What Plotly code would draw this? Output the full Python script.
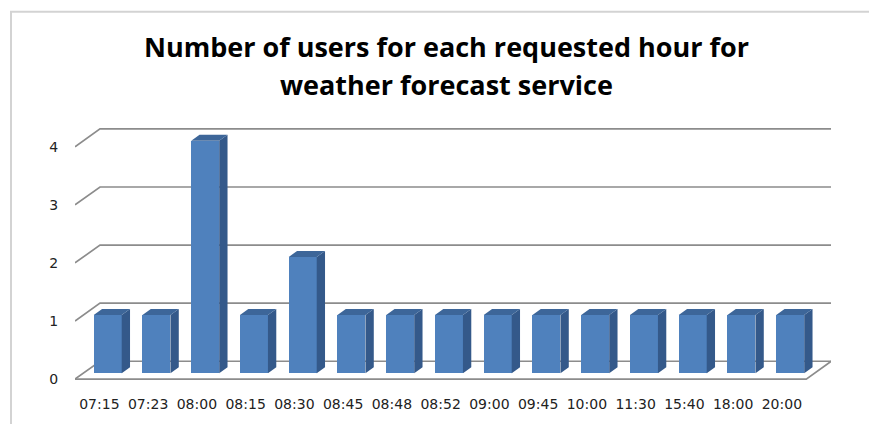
import plotly.graph_objects as go

# ---- data ----
hours = ["07:15", "07:23", "08:00", "08:15", "08:30", "08:45", "08:48", "08:52",
         "09:00", "09:45", "10:00", "11:30", "15:40", "18:00", "20:00"]
users = [1, 1, 4, 1, 2, 1, 1, 1, 1, 1, 1, 1, 1, 1, 1]
y_ticks = [0, 1, 2, 3, 4]
title_lines = ["Number of users for each requested hour for", "weather forecast service"]

# ---- layout geometry (pixels) ----
W_PX, H_PX = 869, 424
L, R, T, B = 75, 38, 120, 36
PX_X = 48.75          # px per category
PX_Y = 58.75          # px per unit
plot_w = W_PX - L - R
plot_h = H_PX - T - B
DX = 25 / PX_X        # depth offset (data units)
DY = 18 / PX_Y
BW = 0.574            # bar width
x0 = -0.5
x1 = len(hours) - 0.5
ymin = -6 / PX_Y
ymax = ymin + plot_h / PX_Y
xmax = x0 + plot_w / PX_X

def px2paper_x(px):
    return (px - L) / plot_w

def px2paper_y(py):
    return (H_PX - B - py) / plot_h

fig = go.Figure()

# gridlines (as shapes below traces): back wall + left stubs + floor edges
grid_style = dict(color="#8c8c8c", width=1.7)
shapes = []
for v in y_ticks:
    path = "M %f,%f L %f,%f L %f,%f" % (x0, v, x0 + DX, v + DY, x1 + DX, v + DY)
    shapes.append(dict(type="path", xref="x", yref="y", path=path,
                       line=grid_style, layer="below"))
path = "M %f,%f L %f,%f L %f,%f" % (x0, 0, x1, 0, x1 + DX, DY)
shapes.append(dict(type="path", xref="x", yref="y", path=path,
                   line=grid_style, layer="below"))
# chart border
shapes.append(dict(type="rect", xref="paper", yref="paper",
                   x0=px2paper_x(11), x1=px2paper_x(880),
                   y0=px2paper_y(435), y1=px2paper_y(10.5),
                   line=dict(color="#d3d3d3", width=2), layer="below"))

# bar geometry
d0x, d0y = DX / 3, DY / 3
d1x, d1y = 2 * DX / 3, 2 * DY / 3
sx, sy, tx, ty = [], [], [], []
for i, v in enumerate(users):
    xl = i - BW / 2 + d0x
    xr = i + BW / 2 + d0x
    # side face
    sx += [xr, xr + (d1x - d0x), xr + (d1x - d0x), xr, xr, None]
    sy += [d0y, d1y, v + d1y, v + d0y, d0y, None]
    # top face
    tx += [xl, xr, xr + (d1x - d0x), xl + (d1x - d0x), xl, None]
    ty += [v + d0y, v + d0y, v + d1y, v + d1y, v + d0y, None]

fig.add_trace(go.Bar(x=[i + d0x for i in range(len(hours))], y=users,
                     base=d0y, width=BW,
                     marker=dict(color="#4f81bd", line=dict(width=0)),
                     showlegend=False, hovertext=hours))
fig.add_trace(go.Scatter(x=sx, y=sy, mode="lines", fill="toself",
                         fillcolor="#34598a", line=dict(width=0, color="#34598a"),
                         hoverinfo="skip", showlegend=False))
fig.add_trace(go.Scatter(x=tx, y=ty, mode="lines", fill="toself",
                         fillcolor="#3d6699", line=dict(width=0, color="#3d6699"),
                         hoverinfo="skip", showlegend=False))

fig.update_layout(
    width=W_PX, height=H_PX,
    margin=dict(l=L, r=R, t=T, b=B, pad=0),
    paper_bgcolor="white", plot_bgcolor="white",
    showlegend=False,
    bargap=0,
    xaxis=dict(range=[x0, xmax], tickmode="array",
               tickvals=list(range(len(hours))), ticktext=hours,
               showgrid=False, zeroline=False, showline=False,
               ticks="outside", ticklen=6, tickcolor="rgba(0,0,0,0)",
               tickfont=dict(family="DejaVu Sans", size=14, color="#222222")),
    yaxis=dict(range=[ymin, ymax], tickmode="array",
               tickvals=y_ticks, ticktext=[str(v) for v in y_ticks],
               showgrid=False, zeroline=False, showline=False,
               ticks="outside", ticklen=13, tickcolor="rgba(0,0,0,0)",
               tickfont=dict(family="DejaVu Sans", size=14, color="#222222")),
    shapes=shapes,
    annotations=[
        dict(text="<b>%s</b>" % title_lines[0], xref="paper", yref="paper",
             x=px2paper_x(446), y=px2paper_y(46), xanchor="center", yanchor="middle",
             showarrow=False, font=dict(family="Open Sans", size=27, color="black")),
        dict(text="<b>%s</b>" % title_lines[1], xref="paper", yref="paper",
             x=px2paper_x(446), y=px2paper_y(84), xanchor="center", yanchor="middle",
             showarrow=False, font=dict(family="Open Sans", size=27, color="black")),
    ],
)

fig.write_html("out.html", config={"displayModeBar": False},
               post_script="document.body.style.margin='0';document.body.style.overflow='hidden';")
